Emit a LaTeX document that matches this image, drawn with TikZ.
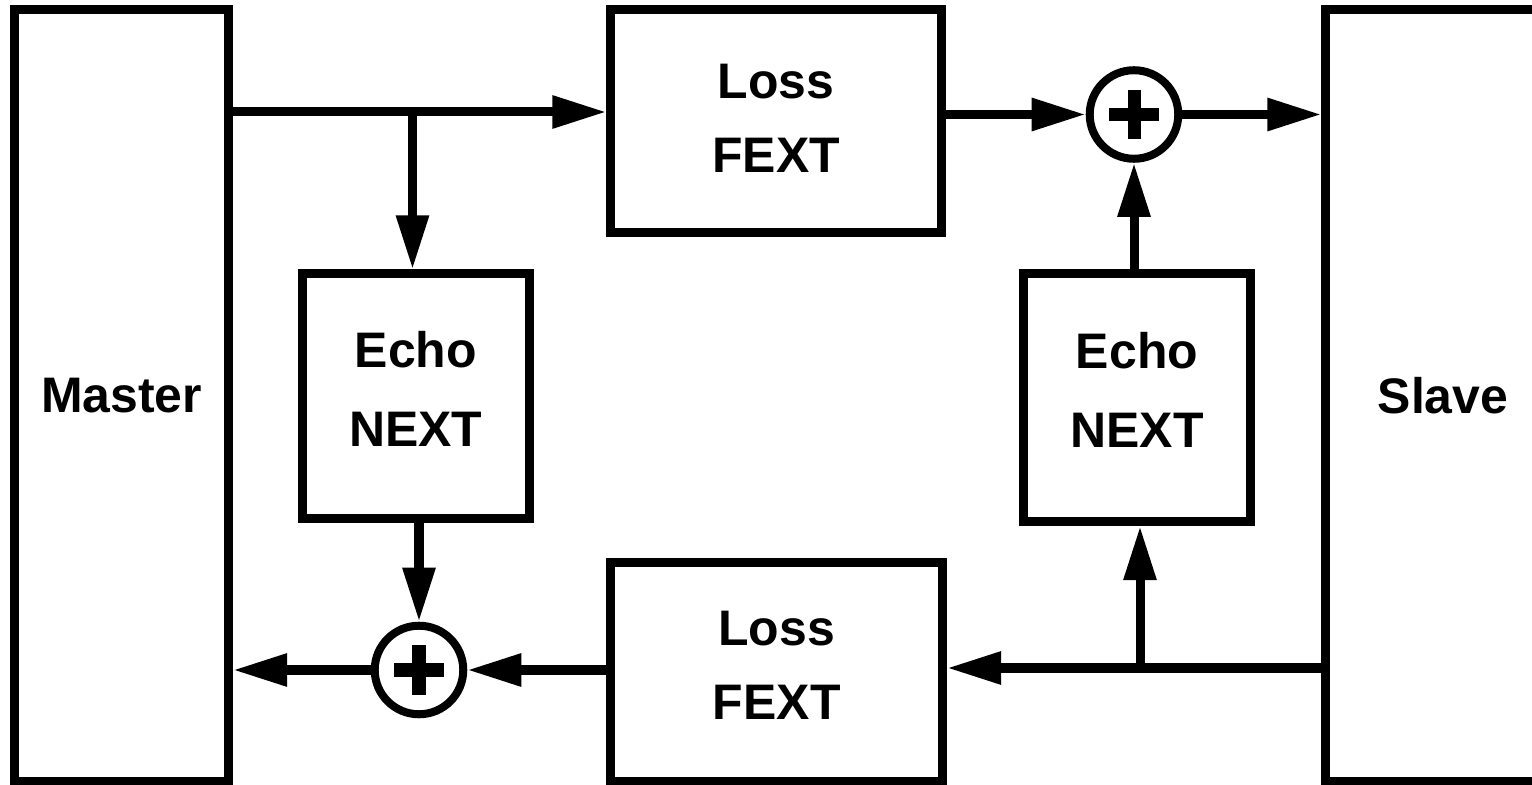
\documentclass[tikz,border=0pt]{standalone}
\usepackage{fontspec}
\setmainfont{Liberation Sans}
\usetikzlibrary{arrows.meta}
\begin{document}
\begin{tikzpicture}[x=0.01cm,y=-0.01cm,
  box/.style={draw, line width=0.09cm, rectangle, inner sep=0pt, align=center,
    font=\bfseries\fontsize{14.2}{21}\selectfont},
  echobox/.style={box, font=\bfseries\fontsize{14.2}{22.5}\selectfont},
  sum/.style={draw, circle, line width=0.08cm, inner sep=0pt, minimum size=0.885cm},
  conn/.style={line width=0.09cm},
  arr/.style={conn, -{Triangle[length=0.54cm,width=0.31cm]}},
  plusbar/.style={line width=0.13cm},
]
\useasboundingbox (0,0) rectangle (1532,785);
% blocks
\node[box, minimum width=2.14cm, minimum height=7.715cm] (master) at (121.5,395.25) {Master};
\node[box, minimum width=2.34cm, minimum height=7.715cm] (slave) at (1443,395.25) {Slave};
\node[box, minimum width=3.305cm, minimum height=2.22cm, text depth=0.06cm] (tl) at (776.25,121) {Loss\\FEXT};
\node[box, minimum width=3.315cm, minimum height=2.185cm, text depth=0.12cm] (bl) at (776.75,671.75) {Loss\\FEXT};
\node[echobox, minimum width=2.265cm, minimum height=2.44cm, text depth=0.15cm] (le) at (415.75,396) {Echo\\NEXT};
\node[echobox, minimum width=2.27cm, minimum height=2.48cm, text depth=0.15cm] (re) at (1137,397.5) {Echo\\NEXT};
% summing junctions
\node[sum] (pr) at (1134,114.5) {};
\node[sum] (pl) at (419,670) {};
\foreach \s in {pr,pl}{
  \draw[plusbar] ([xshift=-0.245cm]\s.center) -- ([xshift=0.245cm]\s.center);
  \draw[plusbar] ([yshift=-0.245cm]\s.center) -- ([yshift=0.245cm]\s.center);
}
% helper coordinates
\coordinate (ytop) at (0,112);
\coordinate (b1) at (412.5,112);
\coordinate (ybot) at (0,668);
\coordinate (b2) at (1140,668);
% upper path
\draw[arr] (master.east |- ytop) -- (tl.west |- ytop);
\draw[arr] (b1) -- (b1 |- le.north);
\draw[arr] (tl.east |- pr.west) -- (pr.west);
\draw[arr] (pr.east) -- (pr.east -| slave.west);
\draw[arr] (pr.south |- re.north) -- (pr.south);
% lower path
\draw[arr] (slave.west |- ybot) -- (bl.east |- ybot);
\draw[arr] (b2) -- (b2 |- re.south);
\draw[arr] (bl.west |- pl.east) -- (pl.east);
\draw[arr] (pl.north |- le.south) -- (pl.north);
\draw[arr] (pl.west) -- (pl.west -| master.east);
\end{tikzpicture}
\end{document}
